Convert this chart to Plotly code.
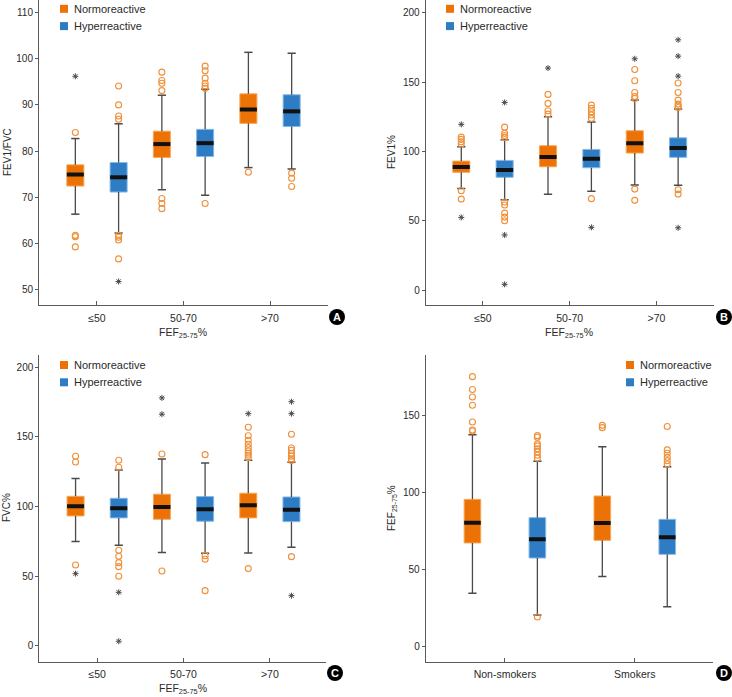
import plotly.graph_objects as go

W, H = 732, 697

FEF_CATS = ["≤50", "50-70", ">70"]
SMOKE_CATS = ["Non-smokers", "Smokers"]
GROUPS = ["Normoreactive", "Hyperreactive"]

# ---------------- Panel A : FEV1/FVC ----------------
A_NORM_LOW = [66.3, 71.6, 76.4]
A_NORM_Q1 = [72.4, 78.6, 86.0]
A_NORM_MED = [74.9, 81.5, 89.0]
A_NORM_Q3 = [77.0, 84.3, 92.4]
A_NORM_HIGH = [82.7, 92.1, 101.4]
A_NORM_CIRCLES = [[84.0, 61.7, 61.4, 59.2], [97.1, 95.3, 94.7, 93.1, 69.7, 68.6, 67.5], [75.4]]
A_NORM_STARS = [[96.2], [], []]

A_HYPER_LOW = [62.2, 70.4, 76.1]
A_HYPER_Q1 = [71.1, 78.8, 85.3]
A_HYPER_MED = [74.3, 81.7, 88.6]
A_HYPER_Q3 = [77.5, 84.7, 92.2]
A_HYPER_HIGH = [85.9, 93.4, 101.2]
A_HYPER_CIRCLES = [[94.1, 90.0, 87.6, 86.9, 61.7, 61.3, 60.7, 56.6],
                   [98.4, 97.4, 95.8, 94.7, 94.1, 93.6, 68.6],
                   [75.2, 74.1, 72.3]]
A_HYPER_STARS = [[51.7], [], []]

# ---------------- Panel B : FEV1% ----------------
B_NORM_LOW = [73.3, 69.0, 75.7]
B_NORM_Q1 = [84.9, 88.9, 98.8]
B_NORM_MED = [88.7, 95.9, 105.8]
B_NORM_Q3 = [93.0, 104.1, 114.9]
B_NORM_HIGH = [103.4, 125.0, 137.0]
B_NORM_CIRCLES = [[110.3, 108.7, 106.9, 105.3, 71.6, 65.6],
                  [141.1, 134.6, 129.3, 126.9],
                  [159.1, 150.9, 142.5, 139.6, 138.2, 72.8, 64.7]]
B_NORM_STARS = [[119.5, 52.4], [160.1], [166.8]]

B_HYPER_LOW = [65.1, 71.2, 75.5]
B_HYPER_Q1 = [81.3, 88.2, 95.7]
B_HYPER_MED = [86.5, 94.7, 102.4]
B_HYPER_Q3 = [93.5, 101.4, 109.8]
B_HYPER_HIGH = [108.4, 121.2, 130.5]
B_HYPER_CIRCLES = [[117.5, 113.0, 111.5, 110.1, 63.5, 61.3, 55.5, 52.6, 50.0],
                   [133.4, 131.0, 128.6, 126.2, 123.8, 65.9],
                   [149.3, 142.5, 137.0, 134.1, 132.7, 131.7, 72.3, 69.2]]
B_HYPER_STARS = [[135.3, 39.7, 4.1], [45.2], [180.5, 168.7, 154.3, 44.9]]

# ---------------- Panel C : FVC% ----------------
C_NORM_LOW = [74.9, 67.0, 66.7]
C_NORM_Q1 = [93.3, 90.9, 91.9]
C_NORM_MED = [100.2, 99.7, 101.0]
C_NORM_Q3 = [107.4, 108.9, 109.6]
C_NORM_HIGH = [120.1, 134.2, 133.2]
C_NORM_CIRCLES = [[136.1, 132.0, 58.1], [137.8, 53.8],
                  [157.0, 150.9, 147.6, 144.7, 142.3, 139.9, 138.3, 136.9, 135.1, 55.5]]
C_NORM_STARS = [[51.9], [178.0, 166.3], [166.7]]

C_HYPER_LOW = [72.3, 66.5, 70.8]
C_HYPER_Q1 = [91.9, 89.5, 89.2]
C_HYPER_MED = [98.8, 98.1, 97.8]
C_HYPER_Q3 = [106.0, 107.2, 106.9]
C_HYPER_HIGH = [126.3, 131.3, 131.8]
C_HYPER_CIRCLES = [[133.3, 128.2, 68.7, 64.4, 59.8, 56.9, 50.0],
                   [137.3, 64.8, 62.2, 39.7],
                   [151.9, 142.1, 140.4, 138.3, 136.1, 134.2, 133.0, 64.1]]
C_HYPER_STARS = [[38.5, 3.4], [], [175.3, 166.7, 36.1]]

# ---------------- Panel D : FEF25-75% ----------------
D_NORM_LOW = [34.3, 45.2]
D_NORM_Q1 = [67.1, 68.8]
D_NORM_MED = [80.3, 80.1]
D_NORM_Q3 = [95.5, 97.7]
D_NORM_HIGH = [137.6, 129.8]
D_NORM_CIRCLES = [[175.4, 167.0, 162.2, 156.8, 145.9, 140.7, 140.0], [143.7, 142.2]]
D_NORM_STARS = [[], []]

D_HYPER_LOW = [20.2, 25.6]
D_HYPER_Q1 = [57.3, 59.7]
D_HYPER_MED = [69.5, 70.8]
D_HYPER_Q3 = [83.6, 82.5]
D_HYPER_HIGH = [120.3, 116.8]
D_HYPER_CIRCLES = [[137.0, 135.9, 131.6, 130.3, 128.5, 126.4, 124.2, 122.3, 18.9],
                   [142.9, 127.7, 125.5, 122.9, 120.7, 118.5]]
D_HYPER_STARS = [[], []]

# ---------------- styling ----------------
ORANGE = "#EC7206"
ORANGE_EDGE = "#F6A857"
BLUE = "#2E7CC4"
BLUE_EDGE = "#86B9E6"
CIRCLE_COL = "#F0903A"
DARK = "#4A4A4A"
AXIS_COL = "#5A5A5A"
TEXT_COL = "#2A2A2A"
FONT = "Liberation Sans, Arial, sans-serif"

fig = go.Figure()


def add_group(ax, ay, cats, offset, bw, capw, low, q1, med, q3, high, circles, stars, fill, edge):
    pos = [i + 1 + offset for i in range(len(cats))]
    # whiskers
    wx, wy = [], []
    for p, lo, a, b, hi in zip(pos, low, q1, q3, high):
        wx += [p, p, None, p, p, None]
        wy += [lo, a, None, b, hi, None]
    fig.add_trace(go.Scatter(x=wx, y=wy, mode="lines", line=dict(color=DARK, width=1.3),
                             xaxis=ax, yaxis=ay, showlegend=False, hoverinfo="skip"))
    # caps
    cx, cy = [], []
    for p, lo, hi in zip(pos, low, high):
        cx += [p - capw / 2, p + capw / 2, None, p - capw / 2, p + capw / 2, None]
        cy += [lo, lo, None, hi, hi, None]
    fig.add_trace(go.Scatter(x=cx, y=cy, mode="lines", line=dict(color=DARK, width=1.5),
                             xaxis=ax, yaxis=ay, showlegend=False, hoverinfo="skip"))
    # boxes
    fig.add_trace(go.Bar(x=pos, y=[b - a for a, b in zip(q1, q3)], base=q1, width=bw,
                         marker=dict(color=fill, line=dict(color=edge, width=1)),
                         xaxis=ax, yaxis=ay, showlegend=False))
    # medians
    mx, my = [], []
    for p, m in zip(pos, med):
        mx += [p - bw / 2, p + bw / 2, None]
        my += [m, m, None]
    fig.add_trace(go.Scatter(x=mx, y=my, mode="lines", line=dict(color="#111111", width=4),
                             xaxis=ax, yaxis=ay, showlegend=False, hoverinfo="skip"))
    # outliers
    ox, oy = [], []
    for p, vals in zip(pos, circles):
        ox += [p] * len(vals)
        oy += vals
    fig.add_trace(go.Scatter(x=ox, y=oy, mode="markers",
                             marker=dict(symbol="circle-open", size=6, color=CIRCLE_COL,
                                         line=dict(width=1.1, color=CIRCLE_COL)),
                             xaxis=ax, yaxis=ay, showlegend=False))
    sx, sy = [], []
    for p, vals in zip(pos, stars):
        sx += [p] * len(vals)
        sy += vals
    fig.add_trace(go.Scatter(x=sx, y=sy, mode="markers",
                             marker=dict(symbol="asterisk-open", size=5, color=DARK,
                                         line=dict(width=1, color=DARK)),
                             xaxis=ax, yaxis=ay, showlegend=False))


panels = [
    ("x", "y", FEF_CATS, 0.197, 0.095,
     (A_NORM_LOW, A_NORM_Q1, A_NORM_MED, A_NORM_Q3, A_NORM_HIGH, A_NORM_CIRCLES, A_NORM_STARS),
     (A_HYPER_LOW, A_HYPER_Q1, A_HYPER_MED, A_HYPER_Q3, A_HYPER_HIGH, A_HYPER_CIRCLES, A_HYPER_STARS)),
    ("x2", "y2", FEF_CATS, 0.197, 0.095,
     (B_NORM_LOW, B_NORM_Q1, B_NORM_MED, B_NORM_Q3, B_NORM_HIGH, B_NORM_CIRCLES, B_NORM_STARS),
     (B_HYPER_LOW, B_HYPER_Q1, B_HYPER_MED, B_HYPER_Q3, B_HYPER_HIGH, B_HYPER_CIRCLES, B_HYPER_STARS)),
    ("x3", "y3", FEF_CATS, 0.197, 0.095,
     (C_NORM_LOW, C_NORM_Q1, C_NORM_MED, C_NORM_Q3, C_NORM_HIGH, C_NORM_CIRCLES, C_NORM_STARS),
     (C_HYPER_LOW, C_HYPER_Q1, C_HYPER_MED, C_HYPER_Q3, C_HYPER_HIGH, C_HYPER_CIRCLES, C_HYPER_STARS)),
    ("x4", "y4", SMOKE_CATS, 0.128, 0.063,
     (D_NORM_LOW, D_NORM_Q1, D_NORM_MED, D_NORM_Q3, D_NORM_HIGH, D_NORM_CIRCLES, D_NORM_STARS),
     (D_HYPER_LOW, D_HYPER_Q1, D_HYPER_MED, D_HYPER_Q3, D_HYPER_HIGH, D_HYPER_CIRCLES, D_HYPER_STARS)),
]

for ax, ay, cats, bw, capw, norm, hyper in panels:
    add_group(ax, ay, cats, -0.25, bw, capw, *norm, ORANGE, ORANGE_EDGE)
    add_group(ax, ay, cats, 0.25, bw, capw, *hyper, BLUE, BLUE_EDGE)


def px(x):
    return x / W


def py(y):
    return 1 - y / H


def xaxis_cfg(domain, cats, rng, anchor):
    return dict(domain=domain, range=rng, anchor=anchor,
                tickvals=[i + 1 for i in range(len(cats))], ticktext=cats,
                showline=True, linecolor=AXIS_COL, linewidth=1, showgrid=False, zeroline=False,
                ticks="inside", ticklen=4, tickcolor=AXIS_COL,
                tickfont=dict(family=FONT, size=10.5, color=TEXT_COL), ticklabelstandoff=3)


def yaxis_cfg(domain, rng, tickvals, anchor):
    return dict(domain=domain, range=rng, anchor=anchor, tickvals=tickvals,
                showline=True, linecolor=AXIS_COL, linewidth=1, showgrid=False, zeroline=False,
                ticks="outside", ticklen=3, tickcolor=AXIS_COL,
                tickfont=dict(family=FONT, size=10, color=TEXT_COL))


fig.update_layout(
    width=W, height=H, margin=dict(l=0, r=0, t=0, b=0),
    paper_bgcolor="white", plot_bgcolor="white", barmode="overlay", showlegend=False,
    xaxis=xaxis_cfg([px(39), px(328)], FEF_CATS, [0.33, 3.67], "y"),
    yaxis=yaxis_cfg([py(305), py(0)], [46.6, 112.75], [50, 60, 70, 80, 90, 100, 110], "x"),
    xaxis2=xaxis_cfg([px(425.7), px(713.7)], FEF_CATS, [0.34, 3.66], "y2"),
    yaxis2=yaxis_cfg([py(305), py(0)], [-10.8, 209.2], [0, 50, 100, 150, 200], "x2"),
    xaxis3=xaxis_cfg([px(39.3), px(326)], FEF_CATS, [0.33, 3.65], "y3"),
    yaxis3=yaxis_cfg([py(661.7), py(355)], [-11.3, 208.8], [0, 50, 100, 150, 200], "x3"),
    xaxis4=xaxis_cfg([px(425.7), px(712.7)], SMOKE_CATS, [0.39, 2.6], "y4"),
    yaxis4=yaxis_cfg([py(661.7), py(355)], [-10.2, 189.5], [0, 50, 100, 150], "x4"),
)

annotations = []
shapes = []

# axis titles
ytitles = [("FEV1/FVC", 8, 152), ("FEV1%", 392, 152), ("FVC%", 6, 508),
           ("FEF<sub>25-75</sub>%", 392, 508)]
for txt, x, y in ytitles:
    annotations.append(dict(text=txt, x=px(x), y=py(y), xref="paper", yref="paper",
                            showarrow=False, textangle=-90, xanchor="center", yanchor="middle",
                            font=dict(family=FONT, size=10, color=TEXT_COL)))
xtitles = [(183, 333), (569, 333), (183, 689)]
for x, y in xtitles:
    annotations.append(dict(text="FEF<sub>25-75</sub>%", x=px(x), y=py(y), xref="paper", yref="paper",
                            showarrow=False, xanchor="center", yanchor="middle",
                            font=dict(family=FONT, size=10.5, color=TEXT_COL)))

# legends
legend_pos = [(64, 8.8), (450, 8.8), (64, 365), (630, 365)]
for lx, ly in legend_pos:
    for k, (name, col) in enumerate(zip(GROUPS, [ORANGE, BLUE])):
        yy = ly + k * 17.3
        shapes.append(dict(type="rect", xref="paper", yref="paper",
                           x0=px(lx - 4), x1=px(lx + 4), y0=py(yy + 4), y1=py(yy - 4),
                           fillcolor=col, line=dict(width=0)))
        annotations.append(dict(text=name, x=px(lx + 8), y=py(yy), xref="paper", yref="paper",
                                showarrow=False, xanchor="left", yanchor="middle",
                                font=dict(family=FONT, size=11, color=TEXT_COL)))

# panel letters
letters = [("A", 337, 317), ("B", 724, 317), ("C", 335, 673), ("D", 724, 673)]
for t, x, y in letters:
    shapes.append(dict(type="circle", xref="paper", yref="paper",
                       x0=px(x - 8), x1=px(x + 8), y0=py(y + 8), y1=py(y - 8),
                       fillcolor="black", line=dict(width=0)))
    annotations.append(dict(text="<b>%s</b>" % t, x=px(x), y=py(y), xref="paper", yref="paper",
                            showarrow=False, xanchor="center", yanchor="middle",
                            font=dict(family=FONT, size=11, color="white")))

fig.update_layout(annotations=annotations, shapes=shapes)
fig.write_html("out.html", config={"displayModeBar": False},
               post_script="document.body.style.margin='0';")
